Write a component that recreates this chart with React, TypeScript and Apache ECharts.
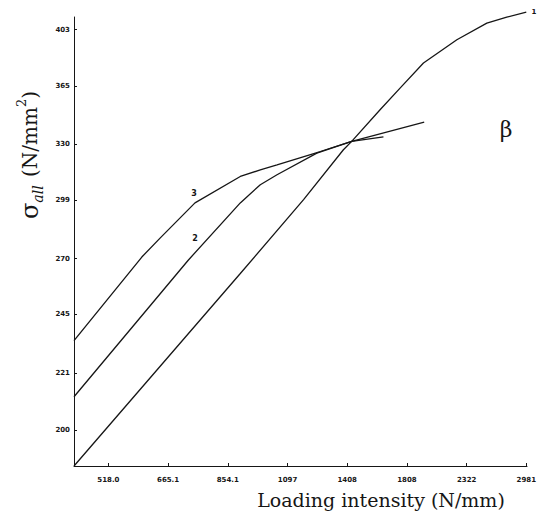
import { useEffect, useRef } from "react";
import * as echarts from "echarts";

// Tick marks (both axes are logarithmic, evenly spaced in ln units)
const xTickValues = [518.0, 665.1, 854.1, 1097, 1408, 1808, 2322, 2981];
const xTickLabels = ["518.0", "665.1", "854.1", "1097", "1408", "1808", "2322", "2981"];
const yTickValues = [200, 221, 245, 270, 299, 330, 365, 403];
const yTickLabels = ["200", "221", "245", "270", "299", "330", "365", "403"];

const xAxisMin = 448.5;
const xAxisMax = 2990;
const yAxisMin = 187.8;
const yAxisMax = 412;

// Curve 1
const curve1X = [448.5, 900, 1173, 1386, 1435, 1616, 1757, 1938, 2229, 2527, 2747, 2981];
const curve1Y = [187.8, 263.0, 299.3, 326.6, 331.4, 350.3, 363.8, 380.1, 395.9, 407.6, 411.9, 415.5];
// Curve 2
const curve2X = [448.5, 723.6, 899.9, 978.6, 1049.6, 1240, 1435, 1944];
const curve2Y = [212.0, 269.2, 297.6, 307.2, 312.6, 324.7, 331.4, 342.8];
// Curve 3
const curve3X = [448.5, 595.8, 643.1, 744.4, 899.9, 978.6, 1049.6, 1258, 1435, 1639];
const curve3Y = [233.9, 270.7, 279.8, 297.6, 311.7, 315.3, 318.1, 325.6, 331.4, 334.0];

const toPts = (xs: number[], ys: number[]) => xs.map((x, i) => [Math.log(x), Math.log(ys[i])]);

const labelFor = (v: number, vals: number[], labels: string[]) => {
  let best = 0;
  let bd = Infinity;
  vals.forEach((t, i) => {
    const d = Math.abs(Math.log(t) - v);
    if (d < bd) {
      bd = d;
      best = i;
    }
  });
  return labels[best];
};

const ink = "#161616";

export default function App() {
  const ref = useRef<HTMLDivElement>(null);
  useEffect(() => {
    if (!ref.current) return;
    const chart = echarts.init(ref.current, null, { renderer: "svg" });
    const tickFont = {
      fontSize: 7,
      fontWeight: "bold" as const,
      fontFamily: "DejaVu Sans",
      color: ink,
    };
    const lineSeries = (name: string, xs: number[], ys: number[]) => ({
      name,
      type: "line" as const,
      data: toPts(xs, ys),
      symbol: "none",
      clip: false,
      lineStyle: { color: ink, width: 1.3 },
      silent: true,
    });
    chart.setOption({
      animation: false,
      backgroundColor: "#ffffff",
      grid: {
        left: 74,
        right: 15,
        top: 17,
        bottom: 57,
        containLabel: false,
        outerBoundsMode: "none",
      },
      xAxis: {
        type: "value",
        min: Math.log(xAxisMin),
        max: Math.log(xAxisMax),
        axisLine: { show: true, onZero: false, lineStyle: { color: ink, width: 1 } },
        axisTick: {
          show: true,
          inside: true,
          length: 3,
          customValues: xTickValues.map(Math.log),
          lineStyle: { color: ink, width: 1 },
        },
        axisLabel: {
          ...tickFont,
          margin: 10,
          customValues: xTickValues.map(Math.log),
          formatter: (v: number) => labelFor(v, xTickValues, xTickLabels),
        },
        splitLine: { show: false },
      },
      yAxis: {
        type: "value",
        min: Math.log(yAxisMin),
        max: Math.log(yAxisMax),
        axisLine: { show: true, onZero: false, lineStyle: { color: ink, width: 1 } },
        axisTick: {
          show: true,
          inside: true,
          length: 3,
          customValues: yTickValues.map(Math.log),
          lineStyle: { color: ink, width: 1 },
        },
        axisLabel: {
          ...tickFont,
          margin: 4,
          customValues: yTickValues.map(Math.log),
          formatter: (v: number) => labelFor(v, yTickValues, yTickLabels),
        },
        splitLine: { show: false },
      },
      series: [
        lineSeries("1", curve1X, curve1Y),
        lineSeries("2", curve2X, curve2Y),
        lineSeries("3", curve3X, curve3Y),
      ],
      graphic: [
        {
          type: "text",
          x: 381,
          y: 500,
          style: {
            text: "Loading intensity (N/mm)",
            font: "19px 'DejaVu Serif'",
            fill: ink,
            align: "center",
            verticalAlign: "middle",
          },
        },
        {
          type: "text",
          x: 30,
          y: 155,
          rotation: Math.PI / 2,
          style: {
            text: "{s|σ}{sub|all}{m| (N/mm}{sup|2}{m|)}",
            fill: ink,
            align: "center",
            verticalAlign: "middle",
            rich: {
              s: { fontFamily: "DejaVu Serif", fontSize: 24, lineHeight: 30, verticalAlign: "middle", fill: ink },
              sub: {
                fontFamily: "DejaVu Serif",
                fontStyle: "italic",
                fontSize: 14,
                lineHeight: 14,
                verticalAlign: "bottom",
                padding: [0, 2, 0, 0],
                fill: ink,
              },
              m: { fontFamily: "DejaVu Serif", fontSize: 20, lineHeight: 30, verticalAlign: "middle", fill: ink },
              sup: { fontFamily: "DejaVu Serif", fontSize: 13, lineHeight: 13, verticalAlign: "top", fill: ink },
            },
          },
        },
        {
          type: "text",
          x: 506,
          y: 129,
          style: {
            text: "β",
            font: "22px 'DejaVu Serif'",
            fill: ink,
            align: "center",
            verticalAlign: "middle",
          },
        },
        {
          type: "text",
          x: 534,
          y: 12,
          style: { text: "1", font: "bold 7px 'DejaVu Sans'", fill: ink, align: "center", verticalAlign: "middle" },
        },
        {
          type: "text",
          x: 194,
          y: 193,
          style: { text: "3", font: "bold 8px 'DejaVu Sans'", fill: ink, align: "center", verticalAlign: "middle" },
        },
        {
          type: "text",
          x: 195,
          y: 238,
          style: { text: "2", font: "bold 8px 'DejaVu Sans'", fill: ink, align: "center", verticalAlign: "middle" },
        },
      ],
    });
    return () => chart.dispose();
  }, []);
  return (
    <div
      ref={ref}
      style={{ position: "absolute", left: 0, top: 0, width: 542, height: 523 }}
    />
  );
}
